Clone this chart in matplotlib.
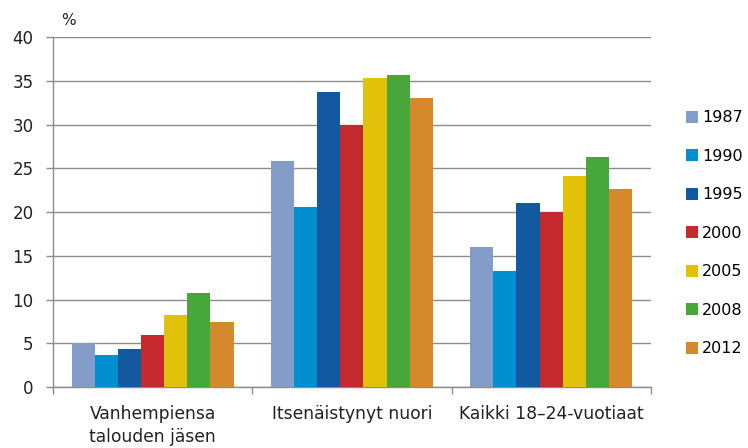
import numpy as np
import matplotlib
matplotlib.use("Agg")
import matplotlib.pyplot as plt
from matplotlib.patches import Patch

categories = ["Vanhempiensa\ntalouden jäsen", "Itsenäistynyt nuori", "Kaikki 18\u201324-vuotiaat"]
years = ["1987", "1990", "1995", "2000", "2005", "2008", "2012"]
colors = ["#849dc8", "#0090cf", "#13599f", "#c4292d", "#e2c10b", "#48a73a", "#d6882c"]

v1987 = [5.0, 25.9, 16.0]
v1990 = [3.7, 20.6, 13.3]
v1995 = [4.3, 33.7, 21.0]
v2000 = [5.9, 30.0, 20.0]
v2005 = [8.2, 35.3, 24.1]
v2008 = [10.7, 35.7, 26.3]
v2012 = [7.4, 33.1, 22.6]
series = [v1987, v1990, v1995, v2000, v2005, v2008, v2012]

plt.rcParams['font.family'] = ['DejaVu Sans']

fig = plt.figure(figsize=(7.48, 4.48), dpi=100)
ax = fig.add_axes([0.071, 0.136, 0.799, 0.781])

x = np.arange(len(categories))
w = 0.116
for i, vals in enumerate(series):
    ax.bar(x + (i - 3) * w, vals, width=w, color=colors[i], linewidth=0, zorder=3)

ax.set_xlim(-0.5, 2.5)
ax.set_ylim(0, 40)
ax.set_yticks(range(0, 41, 5))
ax.yaxis.grid(True, color="#8c8c8c", linewidth=1.0, zorder=0)
ax.set_xticks(x)
ax.set_xticklabels(categories, fontsize=12.3, color="#222222", linespacing=1.35)
ax.tick_params(axis="x", length=0, pad=13)
ax.set_xticks([-0.5, 0.5, 1.5, 2.5], minor=True)
ax.tick_params(axis="x", which="minor", length=5, color="#8c8c8c", width=1)
ax.tick_params(axis="y", length=5, pad=9, color="#8c8c8c", width=1, labelsize=12, labelcolor="#222222")
for s in ["top", "right"]:
    ax.spines[s].set_visible(False)
for s in ["left", "bottom"]:
    ax.spines[s].set_color("#8c8c8c")
    ax.spines[s].set_linewidth(1.0)

fig.text(0.092, 0.955, "%", fontsize=11, color="#222222", ha="center", va="center")

handles = [Patch(facecolor=c, edgecolor="none") for c in colors]
fig.legend(handles, years, loc="upper left", bbox_to_anchor=(0.917, 0.754),
           frameon=False, fontsize=11.5, handlelength=0.78, handleheight=0.78,
           handletextpad=0.25, labelspacing=1.47, borderaxespad=0, borderpad=0)

fig.savefig("out.png", dpi=100)
